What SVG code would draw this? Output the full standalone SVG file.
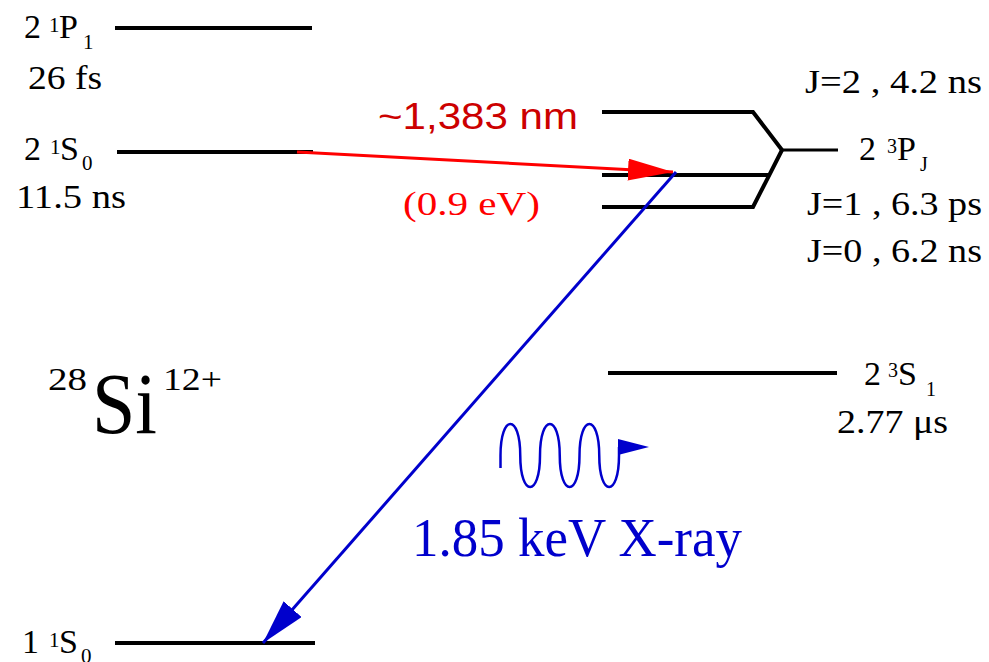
<svg xmlns="http://www.w3.org/2000/svg" width="989" height="662" viewBox="0 0 989 662">
<defs>
<style>
.lvl{stroke:#000;stroke-width:4;fill:none;stroke-linejoin:miter}
</style>
<marker id="ahR" markerUnits="userSpaceOnUse" markerWidth="46" markerHeight="24" refX="45" refY="11" orient="auto"><path d="M0,0 L45,11 L0,22 z" fill="#ff0000"/></marker>
<marker id="ahB" markerUnits="userSpaceOnUse" markerWidth="46" markerHeight="26" refX="45" refY="12" orient="auto"><path d="M0,0 L45,12 L0,24 z" fill="#0000cc"/></marker>
</defs>
<rect width="989" height="662" fill="#fff"/>

<g font-family="'Liberation Serif', 'Times New Roman', serif" font-size="34" fill="#000">
<g id="lvl-2-1P1">
<line class="lvl" x1="115" y1="28" x2="312" y2="28"/>
<text x="24" y="38">2<tspan font-size="21" x="49" y="32">1</tspan><tspan x="59" y="38">P</tspan><tspan font-size="21" x="83" y="49">1</tspan></text>
<text x="28" y="89" textLength="74" lengthAdjust="spacingAndGlyphs">26 fs</text>
</g>

<g id="lvl-2-1S0">
<line class="lvl" x1="117" y1="152" x2="313" y2="152"/>
<text x="24" y="160">2<tspan font-size="21" x="50" y="154">1</tspan><tspan x="60" y="160">S</tspan><tspan font-size="21" x="82" y="170">0</tspan></text>
<text x="16" y="208" textLength="110" lengthAdjust="spacingAndGlyphs">11.5 ns</text>
</g>

<g id="lvl-2-3PJ">
<polyline class="lvl" points="602,112 753,112 782,150"/>
<line class="lvl" x1="602" y1="175" x2="768" y2="175"/>
<polyline class="lvl" points="602,207 753,207 782,150"/>
<line x1="780" y1="150" x2="838" y2="150" stroke="#000" stroke-width="3"/>
<text x="859" y="160">2<tspan font-size="20" x="887" y="153">3</tspan><tspan x="897" y="160">P</tspan><tspan font-size="20" x="920" y="171">J</tspan></text>
<text x="805" y="93" textLength="177" lengthAdjust="spacingAndGlyphs">J=2 , 4.2 ns</text>
<text x="807" y="215" textLength="175" lengthAdjust="spacingAndGlyphs">J=1 , 6.3 ps</text>
<text x="807" y="262" textLength="175" lengthAdjust="spacingAndGlyphs">J=0 , 6.2 ns</text>
</g>

<g id="lvl-2-3S1">
<line class="lvl" x1="608" y1="373" x2="837" y2="373"/>
<text x="864" y="385">2<tspan font-size="20" x="888" y="377">3</tspan><tspan x="898" y="385">S</tspan><tspan font-size="20" x="926" y="396">1</tspan></text>
<text x="837" y="433" textLength="111" lengthAdjust="spacingAndGlyphs">2.77 μs</text>
</g>

<g id="lvl-1-1S0">
<line class="lvl" x1="115" y1="643" x2="315" y2="643"/>
<text x="22" y="653">1<tspan font-size="21" x="49" y="647">1</tspan><tspan x="59" y="653">S</tspan><tspan font-size="21" x="81" y="663">0</tspan></text>
</g>

<g id="ion">
<text x="48" y="390" font-size="32" textLength="39" lengthAdjust="spacingAndGlyphs">28</text>
<text x="92" y="433" font-size="86" textLength="65" lengthAdjust="spacingAndGlyphs">Si</text>
<text x="163" y="390" font-size="32" textLength="59" lengthAdjust="spacingAndGlyphs">12+</text>
</g>

<g id="labels">
<text x="378" y="129" font-family="'Liberation Sans', Arial, sans-serif" font-size="37" fill="#cc0000" textLength="200" lengthAdjust="spacingAndGlyphs">~1,383 nm</text>
<text x="403" y="215" fill="#ff0000" textLength="137" lengthAdjust="spacingAndGlyphs">(0.9 eV)</text>
<text x="412" y="556" fill="#0000cc" font-size="54" textLength="330" lengthAdjust="spacingAndGlyphs">1.85 keV X-ray</text>
</g>
</g>

<g id="connectors">
<line x1="297" y1="152" x2="673" y2="172" stroke="#ff0000" stroke-width="3" marker-end="url(#ahR)"/>
<line x1="676" y1="172" x2="263" y2="643" stroke="#0000cc" stroke-width="3" marker-end="url(#ahB)"/>
<path d="M500.5,468 L500.5,455.5 C500.5,413.5 520.25,413.5 520.25,455.5 C520.25,497.5 540,497.5 540,455.5 C540,413.5 559.75,413.5 559.75,455.5 C559.75,497.5 579.5,497.5 579.5,455.5 C579.5,413.5 599.25,413.5 599.25,455.5 C599.25,497.5 619,497.5 619,455.5 L619,447" fill="none" stroke="#0000cc" stroke-width="2.5"/>
<polygon points="618,439 649,447 618,455" fill="#0000cc"/>
</g>
</svg>
